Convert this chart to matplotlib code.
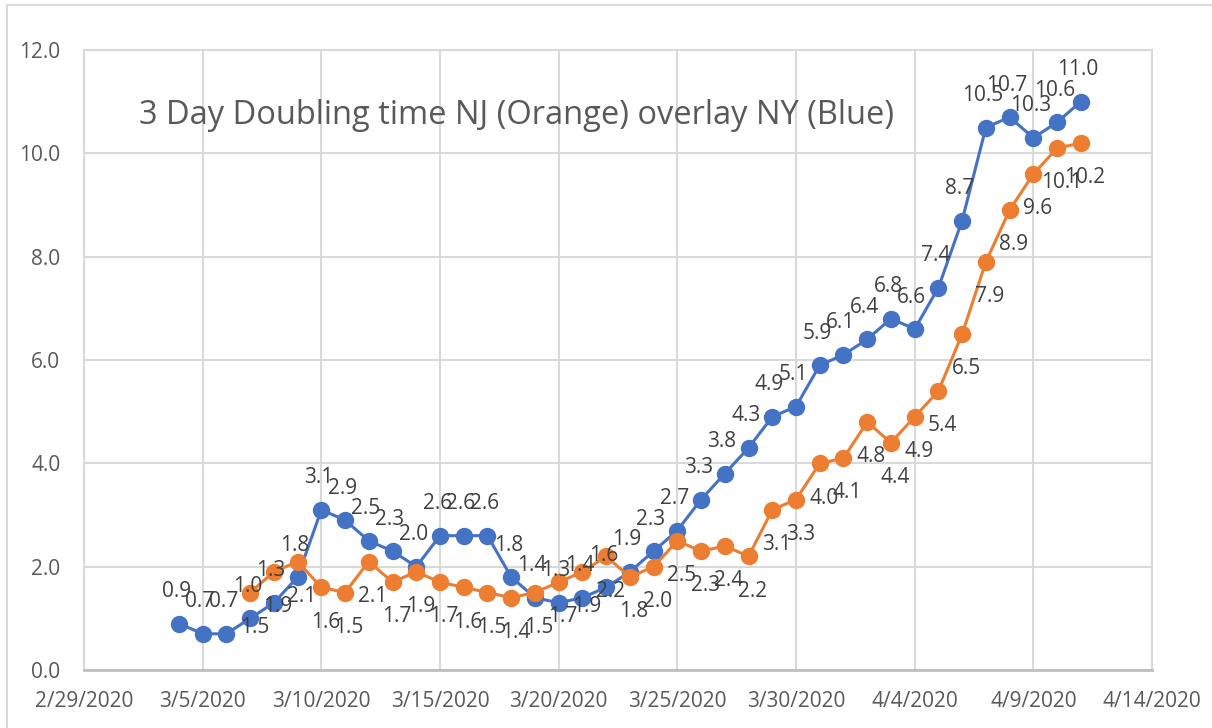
import matplotlib
matplotlib.use('Agg')
import matplotlib.pyplot as plt
import matplotlib.dates as mdates
from matplotlib.patches import Rectangle
from matplotlib.ticker import FuncFormatter, MultipleLocator
from datetime import datetime, timedelta

plt.rcParams['font.family'] = ['Open Sans', 'DejaVu Sans']

# Data (3 day doubling time)
ny_start = '2020-03-04'
ny_values = [0.9, 0.7, 0.7, 1.0, 1.3, 1.8, 3.1, 2.9, 2.5, 2.3, 2.0, 2.6, 2.6, 2.6,
             1.8, 1.4, 1.3, 1.4, 1.6, 1.9, 2.3, 2.7, 3.3, 3.8, 4.3, 4.9, 5.1, 5.9,
             6.1, 6.4, 6.8, 6.6, 7.4, 8.7, 10.5, 10.7, 10.3, 10.6, 11.0]
nj_start = '2020-03-07'
nj_values = [1.5, 1.9, 2.1, 1.6, 1.5, 2.1, 1.7, 1.9, 1.7, 1.6, 1.5, 1.4, 1.5, 1.7,
             1.9, 2.2, 1.8, 2.0, 2.5, 2.3, 2.4, 2.2, 3.1, 3.3, 4.0, 4.1, 4.8, 4.4,
             4.9, 5.4, 6.5, 7.9, 8.9, 9.6, 10.1, 10.2]
title_text = '3 Day Doubling time NJ (Orange) overlay NY (Blue)'

blue = '#4472C4'
orange = '#ED7D31'
grid_col = '#D9D9D9'


def make_dates(start, n):
    d0 = datetime.strptime(start, '%Y-%m-%d')
    return [d0 + timedelta(days=i) for i in range(n)]


ny_dates = make_dates(ny_start, len(ny_values))
nj_dates = make_dates(nj_start, len(nj_values))

fig = plt.figure(figsize=(12.12, 7.28), dpi=100)
ax = fig.add_axes([84 / 1212, 1 - 670 / 728, (1152 - 84) / 1212, (670 - 50) / 728])

# outer chart border (only top/left visible in the crop)
fig.patches.append(Rectangle((7 / 1212, -0.1), 1.2, 1.1 - 5 / 728, transform=fig.transFigure,
                             fill=False, edgecolor=grid_col, linewidth=1.5))

ax.plot(ny_dates, ny_values, color=blue, linewidth=2.2, marker='o', markersize=11.5, zorder=3)
ax.plot(nj_dates, nj_values, color=orange, linewidth=2.2, marker='o', markersize=11.5, zorder=4)

# data labels: NY above, NJ below
for d, v in zip(ny_dates, ny_values):
    ax.annotate(f'{v:.1f}', (d, v), xytext=(-2, 23), textcoords='offset points',
                ha='center', va='center', fontsize=15, color='#404040', zorder=5)
for d, v in zip(nj_dates, nj_values):
    ax.annotate(f'{v:.1f}', (d, v), xytext=(3, -25), textcoords='offset points',
                ha='center', va='center', fontsize=15, color='#404040', zorder=5)

ax.set_xlim(datetime(2020, 2, 29), datetime(2020, 4, 14))
ax.set_ylim(0, 12)
ax.set_xticks([datetime(2020, 2, 29) + timedelta(days=5 * i) for i in range(10)])
ax.xaxis.set_major_formatter(FuncFormatter(
    lambda x, pos: (lambda d: f'{d.month}/{d.day}/{d.year}')(mdates.num2date(x))))
ax.yaxis.set_major_locator(MultipleLocator(2))
ax.yaxis.set_major_formatter(FuncFormatter(lambda y, pos: f'{y:.1f}'))

ax.grid(True, color=grid_col, linewidth=1.5)
ax.set_axisbelow(True)
for side in ['top', 'right', 'left']:
    ax.spines[side].set_color(grid_col)
    ax.spines[side].set_linewidth(1.5)
ax.spines['bottom'].set_color('#BFBFBF')
ax.spines['bottom'].set_linewidth(2)
ax.tick_params(axis='both', length=0, labelsize=15, labelcolor='#595959')
ax.tick_params(axis='x', pad=15)
ax.tick_params(axis='y', pad=17)

ax.text(139 / 1212, 1 - 116 / 728, title_text, transform=fig.transFigure,
        fontsize=23.5, color='#595959', ha='left', va='center')

fig.savefig('out.png', dpi=100)
